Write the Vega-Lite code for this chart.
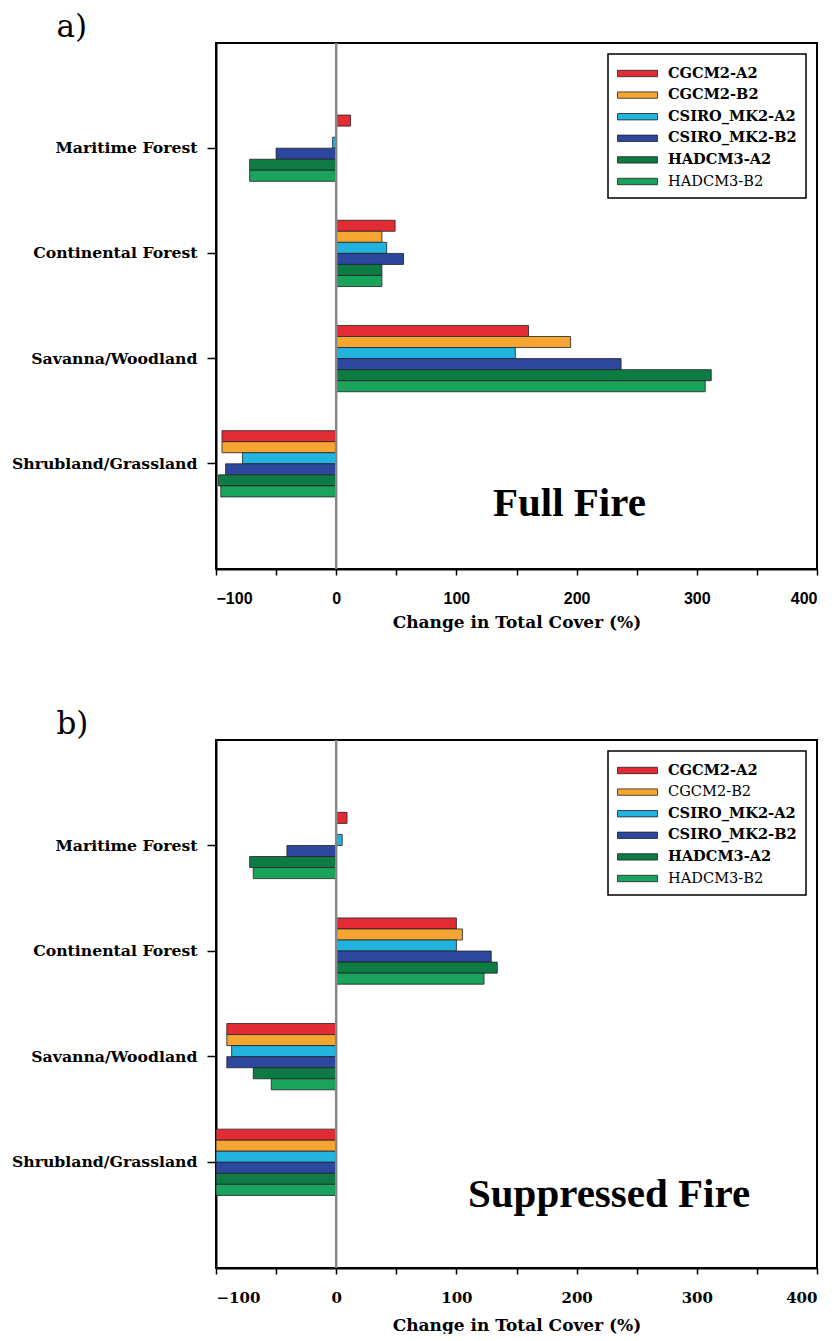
{
  "$schema": "https://vega.github.io/schema/vega-lite/v6.json",
  "background": "white",
  "padding": {"left": 10, "top": 10, "right": 5, "bottom": 0},
  "spacing": 76,
  "datasets": {
    "full": [
      {"cover": "Maritime Forest", "model": "CGCM2-A2", "value": 12},
      {"cover": "Maritime Forest", "model": "CGCM2-B2", "value": 0},
      {"cover": "Maritime Forest", "model": "CSIRO_MK2-A2", "value": -3},
      {"cover": "Maritime Forest", "model": "CSIRO_MK2-B2", "value": -50},
      {"cover": "Maritime Forest", "model": "HADCM3-A2", "value": -72},
      {"cover": "Maritime Forest", "model": "HADCM3-B2", "value": -72},
      {"cover": "Continental Forest", "model": "CGCM2-A2", "value": 49},
      {"cover": "Continental Forest", "model": "CGCM2-B2", "value": 38},
      {"cover": "Continental Forest", "model": "CSIRO_MK2-A2", "value": 42},
      {"cover": "Continental Forest", "model": "CSIRO_MK2-B2", "value": 56},
      {"cover": "Continental Forest", "model": "HADCM3-A2", "value": 38},
      {"cover": "Continental Forest", "model": "HADCM3-B2", "value": 38},
      {"cover": "Savanna/Woodland", "model": "CGCM2-A2", "value": 160},
      {"cover": "Savanna/Woodland", "model": "CGCM2-B2", "value": 195},
      {"cover": "Savanna/Woodland", "model": "CSIRO_MK2-A2", "value": 149},
      {"cover": "Savanna/Woodland", "model": "CSIRO_MK2-B2", "value": 237},
      {"cover": "Savanna/Woodland", "model": "HADCM3-A2", "value": 312},
      {"cover": "Savanna/Woodland", "model": "HADCM3-B2", "value": 307},
      {"cover": "Shrubland/Grassland", "model": "CGCM2-A2", "value": -95},
      {"cover": "Shrubland/Grassland", "model": "CGCM2-B2", "value": -95},
      {"cover": "Shrubland/Grassland", "model": "CSIRO_MK2-A2", "value": -78},
      {"cover": "Shrubland/Grassland", "model": "CSIRO_MK2-B2", "value": -92},
      {"cover": "Shrubland/Grassland", "model": "HADCM3-A2", "value": -98},
      {"cover": "Shrubland/Grassland", "model": "HADCM3-B2", "value": -96}
    ],
    "suppressed": [
      {"cover": "Maritime Forest", "model": "CGCM2-A2", "value": 9},
      {"cover": "Maritime Forest", "model": "CGCM2-B2", "value": 0},
      {"cover": "Maritime Forest", "model": "CSIRO_MK2-A2", "value": 5},
      {"cover": "Maritime Forest", "model": "CSIRO_MK2-B2", "value": -41},
      {"cover": "Maritime Forest", "model": "HADCM3-A2", "value": -72},
      {"cover": "Maritime Forest", "model": "HADCM3-B2", "value": -69},
      {"cover": "Continental Forest", "model": "CGCM2-A2", "value": 100},
      {"cover": "Continental Forest", "model": "CGCM2-B2", "value": 105},
      {"cover": "Continental Forest", "model": "CSIRO_MK2-A2", "value": 100},
      {"cover": "Continental Forest", "model": "CSIRO_MK2-B2", "value": 129},
      {"cover": "Continental Forest", "model": "HADCM3-A2", "value": 134},
      {"cover": "Continental Forest", "model": "HADCM3-B2", "value": 123},
      {"cover": "Savanna/Woodland", "model": "CGCM2-A2", "value": -91},
      {"cover": "Savanna/Woodland", "model": "CGCM2-B2", "value": -91},
      {"cover": "Savanna/Woodland", "model": "CSIRO_MK2-A2", "value": -87},
      {"cover": "Savanna/Woodland", "model": "CSIRO_MK2-B2", "value": -91},
      {"cover": "Savanna/Woodland", "model": "HADCM3-A2", "value": -69},
      {"cover": "Savanna/Woodland", "model": "HADCM3-B2", "value": -54},
      {"cover": "Shrubland/Grassland", "model": "CGCM2-A2", "value": -100},
      {"cover": "Shrubland/Grassland", "model": "CGCM2-B2", "value": -100},
      {"cover": "Shrubland/Grassland", "model": "CSIRO_MK2-A2", "value": -100},
      {"cover": "Shrubland/Grassland", "model": "CSIRO_MK2-B2", "value": -100},
      {"cover": "Shrubland/Grassland", "model": "HADCM3-A2", "value": -100},
      {"cover": "Shrubland/Grassland", "model": "HADCM3-B2", "value": -100}
    ],
    "zero": [{"zero": 0}],
    "labelA": [{"cover": "Shrubland/Grassland", "value": 194, "label": "Full Fire"}],
    "labelB": [{"cover": "Shrubland/Grassland", "value": 227, "label": "Suppressed Fire"}]
  },
  "config": {
    "view": {"stroke": "black", "strokeWidth": 2},
    "axis": {
      "labelFont": "DejaVu Serif", "labelFontWeight": "bold", "labelColor": "black", "labelLimit": 0,
      "titleFont": "DejaVu Serif", "titleFontWeight": "bold", "titleColor": "black",
      "domainColor": "black", "domainWidth": 2, "tickColor": "black", "tickWidth": 1.5, "grid": false
    },
    "legend": {
      "orient": "top-right", "offset": 11, "title": null,
      "strokeColor": "black", "strokeWidth": 1.5, "fillColor": "white", "padding": 9,
      "labelFont": "DejaVu Serif", "labelFontSize": 14.6, "labelColor": "black", "labelFontWeight": "bold", "labelLimit": 0,
      "symbolType": "M-2,-0.32H2V0.32H-2Z", "symbolSize": 400, "symbolStrokeColor": "#222", "symbolStrokeWidth": 0.8,
      "symbolOffset": 10, "labelOffset": 20, "rowPadding": 3.6
    }
  },
  "vconcat": [
    {
      "title": {"text": "a)", "anchor": "start", "frame": "bounds", "dx": 45, "offset": -26, "baseline": "alphabetic", "fontSize": 31, "font": "DejaVu Serif", "fontWeight": "normal", "color": "black"},
      "width": 601, "height": 526,
      "layer": [
        {
          "data": {"name": "full"},
          "mark": {"type": "bar", "stroke": "#222", "strokeWidth": 0.8},
          "encoding": {
            "y": {"field": "cover", "type": "nominal", "sort": ["Maritime Forest", "Continental Forest", "Savanna/Woodland", "Shrubland/Grassland"], "scale": {"paddingInner": 0.37, "paddingOuter": 0.685}, "axis": {"title": null, "labelFontSize": 15.7, "tickSize": 9, "labelPadding": 10}},
            "yOffset": {"field": "model", "type": "nominal", "sort": ["CGCM2-A2", "CGCM2-B2", "CSIRO_MK2-A2", "CSIRO_MK2-B2", "HADCM3-A2", "HADCM3-B2"], "scale": {"paddingInner": 0, "paddingOuter": 0}},
            "x": {"field": "value", "type": "quantitative", "scale": {"domain": [-100, 400], "nice": false}, "axis": {"title": "Change in Total Cover (%)", "titleFontSize": 17, "titlePadding": 8, "values": [-100, -50, 0, 50, 100, 150, 200, 250, 300, 350, 400], "labelExpr": "datum.value % 100 === 0 ? datum.label : ''", "labelFont": "Liberation Sans", "labelFontSize": 16, "tickSize": 6, "labelPadding": 15}},
            "color": {"field": "model", "type": "nominal", "scale": {"domain": ["CGCM2-A2", "CGCM2-B2", "CSIRO_MK2-A2", "CSIRO_MK2-B2", "HADCM3-A2", "HADCM3-B2"], "range": ["#e32b35", "#f6a432", "#23b3df", "#2c479d", "#0e7a44", "#1aa35c"]},
              "legend": {"encode": {"labels": {"update": {"fontWeight": {"signal": "datum.label === 'HADCM3-B2' ? 'normal' : 'bold'"}}}}}}
          }
        },
        {
          "data": {"name": "zero"},
          "mark": {"type": "rule", "color": "#888", "strokeWidth": 2.5},
          "encoding": {"x": {"field": "zero", "type": "quantitative"}}
        },
        {
          "data": {"name": "labelA"},
          "mark": {"type": "text", "font": "Liberation Serif", "fontWeight": "bold", "fontSize": 41, "dy": 52, "baseline": "alphabetic", "color": "black"},
          "encoding": {
            "x": {"field": "value", "type": "quantitative"},
            "y": {"field": "cover", "type": "nominal", "sort": ["Maritime Forest", "Continental Forest", "Savanna/Woodland", "Shrubland/Grassland"]},
            "text": {"field": "label"}
          }
        }
      ]
    },
    {
      "title": {"text": "b)", "anchor": "start", "frame": "bounds", "dx": 45, "offset": -26, "baseline": "alphabetic", "fontSize": 31, "font": "DejaVu Serif", "fontWeight": "normal", "color": "black"},
      "width": 601, "height": 528,
      "layer": [
        {
          "data": {"name": "suppressed"},
          "mark": {"type": "bar", "stroke": "#222", "strokeWidth": 0.8},
          "encoding": {
            "y": {"field": "cover", "type": "nominal", "sort": ["Maritime Forest", "Continental Forest", "Savanna/Woodland", "Shrubland/Grassland"], "scale": {"paddingInner": 0.37, "paddingOuter": 0.685}, "axis": {"title": null, "labelFontSize": 15.7, "tickSize": 9, "labelPadding": 10}},
            "yOffset": {"field": "model", "type": "nominal", "sort": ["CGCM2-A2", "CGCM2-B2", "CSIRO_MK2-A2", "CSIRO_MK2-B2", "HADCM3-A2", "HADCM3-B2"], "scale": {"paddingInner": 0, "paddingOuter": 0}},
            "x": {"field": "value", "type": "quantitative", "scale": {"domain": [-100, 400], "nice": false}, "axis": {"title": "Change in Total Cover (%)", "titleFontSize": 17, "titlePadding": 12, "values": [-100, -50, 0, 50, 100, 150, 200, 250, 300, 350, 400], "labelExpr": "datum.value % 100 === 0 ? datum.label : ''", "labelFontSize": 15, "tickSize": 6, "labelPadding": 16}},
            "color": {"field": "model", "type": "nominal", "scale": {"domain": ["CGCM2-A2", "CGCM2-B2", "CSIRO_MK2-A2", "CSIRO_MK2-B2", "HADCM3-A2", "HADCM3-B2"], "range": ["#e32b35", "#f6a432", "#23b3df", "#2c479d", "#0e7a44", "#1aa35c"]},
              "legend": {"encode": {"labels": {"update": {"fontWeight": {"signal": "datum.label === 'HADCM3-B2' || datum.label === 'CGCM2-B2' ? 'normal' : 'bold'"}}}}}}
          }
        },
        {
          "data": {"name": "zero"},
          "mark": {"type": "rule", "color": "#888", "strokeWidth": 2.5},
          "encoding": {"x": {"field": "zero", "type": "quantitative"}}
        },
        {
          "data": {"name": "labelB"},
          "mark": {"type": "text", "font": "Liberation Serif", "fontWeight": "bold", "fontSize": 41, "dy": 45, "baseline": "alphabetic", "color": "black"},
          "encoding": {
            "x": {"field": "value", "type": "quantitative"},
            "y": {"field": "cover", "type": "nominal", "sort": ["Maritime Forest", "Continental Forest", "Savanna/Woodland", "Shrubland/Grassland"]},
            "text": {"field": "label"}
          }
        }
      ]
    }
  ],
  "resolve": {"scale": {"color": "independent"}, "legend": {"color": "independent"}}
}
